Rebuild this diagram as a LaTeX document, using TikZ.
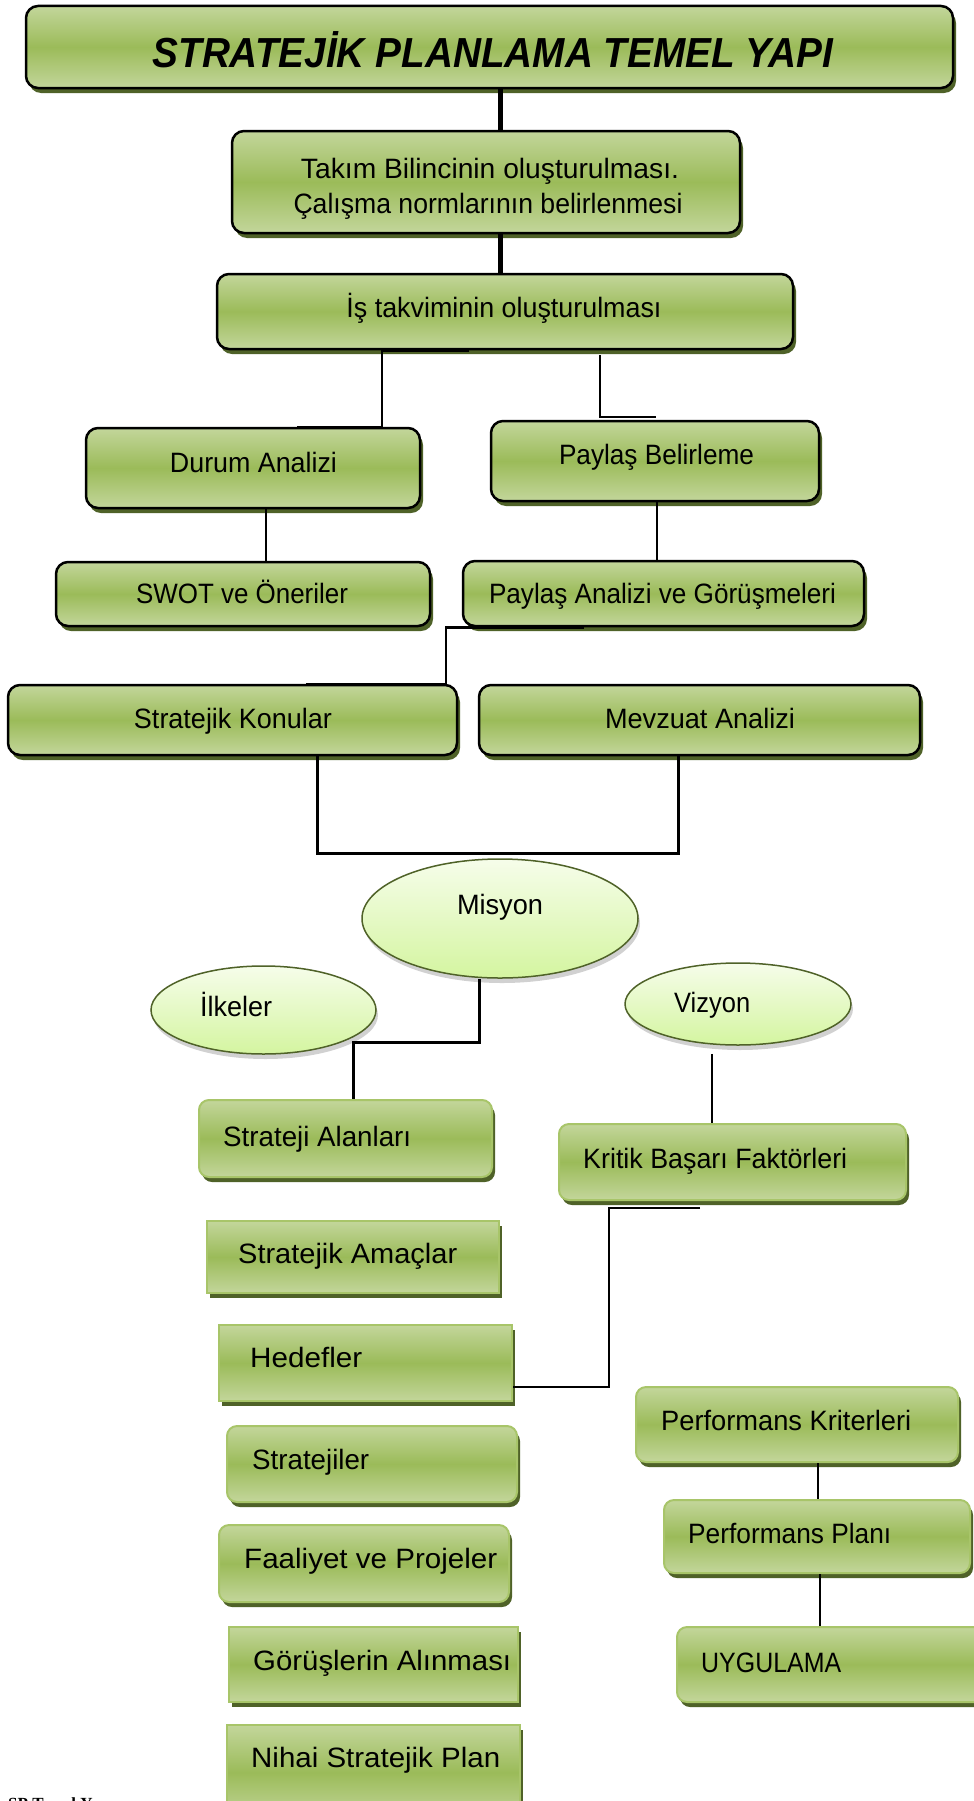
\documentclass[tikz,border=0pt]{standalone}
\usepackage{fontspec}
\setmainfont{Liberation Sans}
\newfontfamily\serifb{Liberation Serif}
\usetikzlibrary{shapes.geometric,shadows,fit}
\definecolor{lg}{RGB}{195,214,155}
\definecolor{mg}{RGB}{155,187,89}
\definecolor{sg}{RGB}{79,98,40}
\definecolor{bdg}{RGB}{168,197,105}
\definecolor{et}{RGB}{246,253,234}
\definecolor{eb}{RGB}{212,245,160}
\newcommand\fw[2]{\resizebox{#1pt}{\height}{#2}}
\begin{document}
\begin{tikzpicture}[x=1pt,y=-1pt,
  gfill/.style={top color=lg,bottom color=lg,middle color=mg},
  shd/.style={drop shadow={shadow xshift=3pt,shadow yshift=-5pt,fill=sg,opacity=1}},
  bbox/.style={gfill,draw=black,line width=2.5pt,rounded corners=12pt,inner sep=0pt,shd},
  lbox/.style={gfill,draw=bdg,line width=2pt,rounded corners=10pt,inner sep=0pt,shd},
  sbox/.style={gfill,draw=bdg,line width=2pt,sharp corners,inner sep=0pt,shd},
  ell/.style={ellipse,draw=sg,line width=1.5pt,top color=et,bottom color=eb,inner sep=0pt,
    drop shadow={shadow xshift=2pt,shadow yshift=-5pt,fill=black,opacity=.18}},
  txt/.style={inner sep=0pt,font=\fontsize{28}{34}\selectfont},
  ln/.style={line width=2.5pt},
  thk/.style={line width=5pt}]
\useasboundingbox (0,0) rectangle (974,1801);
\fill[white] (0,0) rectangle (974,1801);

% upper boxes
\node[bbox,fit={(26,6)(953,88)}] (title) {};
\node[txt,anchor=base,font=\fontsize{42}{50}\selectfont\bfseries\itshape] (title-t) at (493,67) {\fw{681}{STRATEJİK PLANLAMA TEMEL YAPI}};
\node[bbox,fit={(232,131)(740,233)}] (takim) {};
\node[txt,anchor=base] (takim-t1) at (490,178) {\fw{378}{Takım Bilincinin oluşturulması.}};
\node[txt,anchor=base] (takim-t2) at (488,213) {\fw{389}{Çalışma normlarının belirlenmesi}};
\node[bbox,fit={(217,274)(793,349)}] (is) {};
\node[txt,anchor=base] (is-t) at (504,317) {\fw{315}{İş takviminin oluşturulması}};
\node[bbox,fit={(86,428)(420,508)}] (durum) {};
\node[txt,anchor=base] (durum-t) at (253.5,472) {\fw{167}{Durum Analizi}};
\node[bbox,fit={(491,421)(819,501)}] (paylas) {};
\node[txt,anchor=base] (paylas-t) at (656.5,464) {\fw{195}{Paylaş Belirleme}};
\node[bbox,fit={(56,562)(430,626)}] (swot) {};
\node[txt,anchor=base] (swot-t) at (242,603) {\fw{212}{SWOT ve Öneriler}};
\node[bbox,fit={(463,561)(864,626)}] (paylasan) {};
\node[txt,anchor=base] (paylasan-t) at (662.5,603) {\fw{347}{Paylaş Analizi ve Görüşmeleri}};
\node[bbox,fit={(8,685)(457,755)}] (konular) {};
\node[txt,anchor=base] (konular-t) at (233,728) {\fw{198}{Stratejik Konular}};
\node[bbox,fit={(479,685)(920,755)}] (mevzuat) {};
\node[txt,anchor=base] (mevzuat-t) at (700,728) {\fw{190}{Mevzuat Analizi}};

% ellipses
\node[ell,minimum width=276pt,minimum height=119pt] (misyon) at (500,918.5) {};
\node[txt,anchor=base] (misyon-t) at (500,914) {\fw{86}{Misyon}};
\node[ell,minimum width=225pt,minimum height=88pt] (ilkeler) at (263.5,1010) {};
\node[txt,anchor=base west] (ilkeler-t) at (200,1016) {\fw{72}{İlkeler}};
\node[ell,minimum width=226pt,minimum height=82pt] (vizyon) at (738,1004) {};
\node[txt,anchor=base west] (vizyon-t) at (674,1012) {\fw{76}{Vizyon}};

% lower boxes
\node[lbox,fit={(199,1100)(492,1177)}] (stralan) {};
\node[txt,anchor=base west] (stralan-t) at (223,1146) {\fw{188}{Strateji Alanları}};
\node[lbox,fit={(559,1124)(906,1200)}] (kritik) {};
\node[txt,anchor=base west] (kritik-t) at (583,1168) {\fw{264}{Kritik Başarı Faktörleri}};
\node[sbox,fit={(207,1221)(499,1293)}] (amac) {};
\node[txt,anchor=base west] (amac-t) at (238,1263) {\fw{219}{Stratejik Amaçlar}};
\node[sbox,fit={(219,1325)(512,1401)}] (hedef) {};
\node[txt,anchor=base west] (hedef-t) at (250,1367) {\fw{112}{Hedefler}};
\node[lbox,fit={(227,1426)(517,1502)}] (strat) {};
\node[txt,anchor=base west] (strat-t) at (252,1469) {\fw{117}{Stratejiler}};
\node[lbox,fit={(219,1525)(509,1602)}] (faal) {};
\node[txt,anchor=base west] (faal-t) at (244,1568) {\fw{253}{Faaliyet ve Projeler}};
\node[sbox,fit={(229,1627)(518,1702)}] (gorus) {};
\node[txt,anchor=base west] (gorus-t) at (253,1670) {\fw{258}{Görüşlerin Alınması}};
\node[sbox,fit={(227,1725)(520,1820)}] (nihai) {};
\node[txt,anchor=base west] (nihai-t) at (251,1767) {\fw{249}{Nihai Stratejik Plan}};
\node[lbox,fit={(636,1387)(958,1462)}] (perfk) {};
\node[txt,anchor=base west] (perfk-t) at (661,1430) {\fw{250}{Performans Kriterleri}};
\node[lbox,fit={(664,1500)(970,1573)}] (perfp) {};
\node[txt,anchor=base west] (perfp-t) at (688,1543) {\fw{203}{Performans Planı}};
\node[lbox,fit={(677,1627)(995,1702)}] (uyg) {};
\node[txt,anchor=base west] (uyg-t) at (701,1672) {\fw{140}{UYGULAMA}};

\node[inner sep=0pt,anchor=base west,font=\serifb\bfseries\fontsize{17}{20}\selectfont] (sp) at (8,1809) {SP Temel Y};

% connectors
\draw[thk] ([xshift=10.5pt]title.south) -- ([xshift=14pt]takim.north);
\draw[thk] ([xshift=14pt]takim.south) -- ([xshift=-5pt]is.north);
\draw[ln] ([xshift=-36pt]is.south) -- ([xshift=-123pt]is.south) -- ([xshift=129pt]durum.north) -- ([xshift=44pt]durum.north);
\draw[ln] ([xshift=95pt,yshift=-5pt]is.south) |- ([xshift=1pt,yshift=3pt]paylas.north);
\draw[ln] ([xshift=13pt]durum.south) -- ([xshift=23pt]swot.north);
\draw[ln] ([xshift=2pt]paylas.south) -- ([xshift=-6.5pt]paylasan.north);
\draw[ln] ([xshift=-79.5pt]paylasan.south) -- ([xshift=-217.5pt]paylasan.south) |- ([xshift=73.5pt]konular.north);
\draw[ln,line width=3pt] ([xshift=84.5pt]konular.south) -- ++(0,97) -| ([xshift=-21.5pt]mevzuat.south);
\draw[ln,line width=3pt] ([xshift=-21pt]misyon.south) -- ++(0,64) -| ([xshift=7.5pt]stralan.north);
\draw[ln] ([xshift=-26pt,yshift=-8pt]vizyon.south) -- ([xshift=-20.5pt]kritik.north);
\draw[ln] ([xshift=-32.5pt,yshift=-7pt]kritik.south) -- ([xshift=-123.5pt,yshift=-7pt]kritik.south) |- ([yshift=-24pt]hedef.east);
\draw[ln] ([xshift=21pt]perfk.south) -- ([xshift=1pt]perfp.north);
\draw[ln] ([xshift=3pt]perfp.south) -- ([xshift=-16pt]uyg.north);
\end{tikzpicture}
\end{document}
